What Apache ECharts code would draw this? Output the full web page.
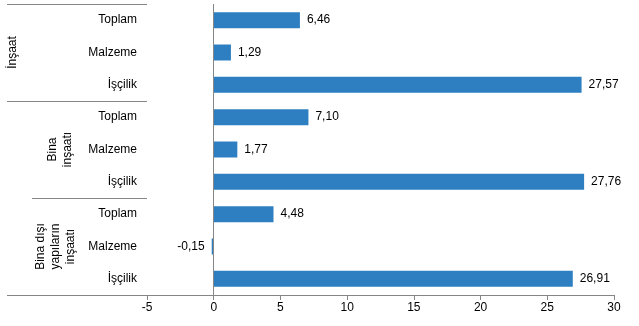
<!DOCTYPE html>
<html>
<head>
<meta charset="utf-8">
<script src="https://cdn.jsdelivr.net/npm/echarts@6/dist/echarts.min.js"></script>
<style>
  html, body { margin: 0; padding: 0; background: #fff; }
  #chart { width: 639px; height: 326px; }
</style>
</head>
<body>
<div id="chart"></div>
<script>
// Category rows, top to bottom
const categories = ['Toplam', 'Malzeme', 'İşçilik', 'Toplam', 'Malzeme', 'İşçilik', 'Toplam', 'Malzeme', 'İşçilik'];
// Values for each row
const values = [6.46, 1.29, 27.57, 7.10, 1.77, 27.76, 4.48, -0.15, 26.91];
// Group titles, each covering three rows
const groups = ['İnşaat', 'Bina\ninşaatı', 'Bina dışı\nyapıların\ninşaatı'];

const FONT = 'Liberation Sans, Arial, sans-serif';
const chart = echarts.init(document.getElementById('chart'), null, { renderer: 'canvas' });

const grid = { left: 147, right: 25, top: 4, bottom: 31 };

const fmt = v => v.toFixed(2).replace('.', ',');

chart.setOption({
  animation: false,
  backgroundColor: '#fff',
  grid: grid,
  xAxis: {
    type: 'value',
    min: -5,
    max: 30,
    interval: 5,
    axisLine: { show: true, onZero: false, lineStyle: { color: '#868686', width: 1 } },
    axisTick: { show: true, inside: false, length: 5, lineStyle: { color: '#868686' } },
    splitLine: { show: false },
    axisLabel: { color: '#000', fontSize: 12, fontFamily: FONT, margin: 7 }
  },
  yAxis: {
    type: 'category',
    inverse: true,
    data: categories.map((c, i) => i),
    axisLine: { show: false, onZero: false },
    axisTick: { show: false },
    axisLabel: {
      color: '#000', fontSize: 12, fontFamily: FONT, margin: 10,
      formatter: (v, i) => categories[i]
    }
  },
  series: [{
    type: 'bar',
    // negative values take their label on the left side of the bar
    data: values.map(v => v < 0 ? { value: v, label: { position: 'left' } } : v),
    barWidth: 16,
    itemStyle: { color: '#2e7fc2' },
    label: {
      show: true,
      position: 'right',
      distance: 7,
      color: '#000',
      fontSize: 12,
      fontFamily: FONT,
      formatter: p => fmt(p.value)
    },
    markLine: {
      silent: true,
      symbol: 'none',
      label: { show: false },
      lineStyle: { color: '#868686', type: 'solid', width: 1 },
      data: [{ xAxis: 0 }]
    }
  }]
});

// Group separators and rotated group titles in the left margin
function drawGroups() {
  const rowY = i => chart.convertToPixel({ yAxisIndex: 0 }, i);
  const band = rowY(1) - rowY(0);
  const x0 = chart.convertToPixel({ xAxisIndex: 0 }, -5);
  const elements = [];
  const lineStart = [7, 7, 32, 7];
  for (let g = 0; g <= groups.length; g++) {
    const y = Math.round(rowY(g * 3) - band / 2) + 0.5;
    elements.push({
      type: 'line',
      shape: { x1: lineStart[g], y1: y, x2: x0, y2: y },
      style: { stroke: '#868686', lineWidth: 1 },
      silent: true
    });
  }
  const titleX = [13, 60, 56];
  groups.forEach((t, g) => {
    elements.push({
      type: 'text',
      x: titleX[g],
      y: rowY(g * 3 + 1),
      rotation: Math.PI / 2,
      silent: true,
      style: {
        text: t,
        fill: '#000',
        font: '12px ' + FONT,
        align: 'center',
        verticalAlign: 'middle',
        lineHeight: 15
      }
    });
  });
  chart.setOption({ graphic: { elements: elements } });
}
drawGroups();
</script>
</body>
</html>
